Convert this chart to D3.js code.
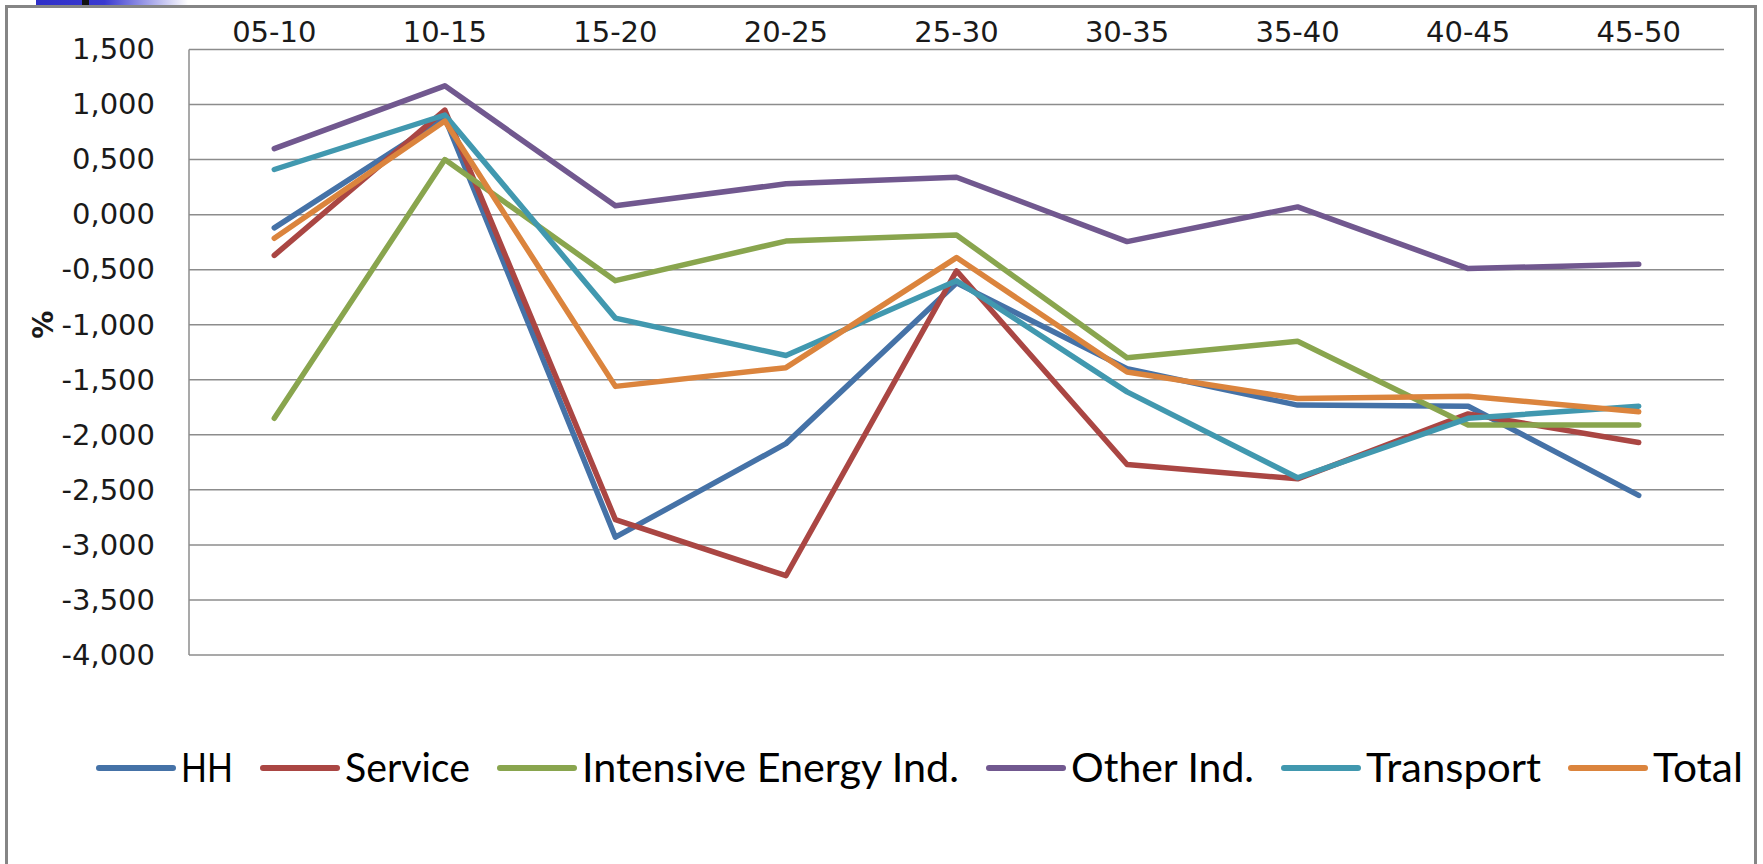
<!DOCTYPE html>
<html>
<head>
<meta charset="utf-8">
<script src="https://cdnjs.cloudflare.com/ajax/libs/d3/7.8.5/d3.min.js"></script>
<style>
  html, body { margin: 0; padding: 0; background: #fff; }
  svg { display: block; }
</style>
</head>
<body>
<svg id="chart" width="1763" height="864"></svg>
<script>
// ---- data ----
const categories = ["05-10","10-15","15-20","20-25","25-30","30-35","35-40","40-45","45-50"];
const seriesNames = ["HH","Service","Intensive Energy Ind.","Other Ind.","Transport","Total"];
const hh        = [-0.12, 0.88, -2.93, -2.08, -0.62, -1.40, -1.73, -1.74, -2.55];
const service   = [-0.37, 0.95, -2.77, -3.28, -0.51, -2.27, -2.40, -1.81, -2.07];
const intensive = [-1.85, 0.50, -0.60, -0.24, -0.185, -1.30, -1.15, -1.91, -1.91];
const otherInd  = [0.60, 1.17, 0.08, 0.28, 0.34, -0.245, 0.07, -0.49, -0.45];
const transport = [0.41, 0.905, -0.94, -1.28, -0.60, -1.61, -2.39, -1.85, -1.74];
const total     = [-0.215, 0.85, -1.56, -1.39, -0.39, -1.43, -1.67, -1.65, -1.79];
const yTicks    = [1.5, 1.0, 0.5, 0.0, -0.5, -1.0, -1.5, -2.0, -2.5, -3.0, -3.5, -4.0];
const colors    = ["#4572A7","#AA4643","#89A54E","#71588F","#4198AF","#DB843D"];

// legend label widths (styling: emulates the narrow Calibri face)
const legendTextWidths = [52, 125, 377, 183, 175, 90];

const seriesValues = [hh, service, intensive, otherInd, transport, total];
const series = seriesNames.map((name, i) => ({ name, values: seriesValues[i], color: colors[i] }));

// ---- layout ----
const svg = d3.select("#chart");
const plot = { left: 189, right: 1724, top: 49.5, bottom: 655 };

// decoration at top-left
const defs = svg.append("defs");
const grad = defs.append("linearGradient").attr("id", "topbar").attr("x1", "0").attr("x2", "1");
grad.append("stop").attr("offset", "0").attr("stop-color", "#2f2fc8");
grad.append("stop").attr("offset", "0.45").attr("stop-color", "#3a3ad0");
grad.append("stop").attr("offset", "1").attr("stop-color", "#ffffff");
svg.append("rect").attr("x", 36).attr("y", 0).attr("width", 152).attr("height", 5).attr("fill", "url(#topbar)");
svg.append("rect").attr("x", 82).attr("y", 0).attr("width", 7).attr("height", 6).attr("fill", "#111");

// chart frame
svg.append("path")
  .attr("d", "M6.5,880 L6.5,6.5 L1755.5,6.5 L1755.5,880")
  .attr("fill", "none").attr("stroke", "#858585").attr("stroke-width", 3);

const x = d3.scaleBand().domain(categories).range([plot.left, plot.right]);
const y = d3.scaleLinear().domain([-4, 1.5]).range([plot.bottom, plot.top]);

const fmt = v => d3.format(".3f")(v).replace(".", ",").replace("\u2212", "-");

// gridlines
svg.append("g").selectAll("line").data(yTicks).join("line")
  .attr("x1", plot.left).attr("x2", plot.right)
  .attr("y1", d => y(d)).attr("y2", d => y(d))
  .attr("stroke", "#8c8c8c").attr("stroke-width", 1.5);

// y axis line
svg.append("line")
  .attr("x1", plot.left).attr("x2", plot.left)
  .attr("y1", plot.top).attr("y2", plot.bottom)
  .attr("stroke", "#8c8c8c").attr("stroke-width", 1.5);

// y tick labels
const yAxis = d3.axisLeft(y).tickValues(yTicks).tickFormat(fmt).tickSize(0).tickPadding(34);
const yg = svg.append("g").attr("transform", `translate(${plot.left},0)`).call(yAxis);
yg.select(".domain").remove();
yg.selectAll("text")
  .attr("font-family", "DejaVu Sans, Verdana, sans-serif")
  .attr("font-size", 29).attr("fill", "#1a1a1a");

// x category labels on top
const xAxis = d3.axisTop(x).tickSize(0).tickPadding(8);
const xg = svg.append("g").attr("transform", `translate(0,${plot.top})`).call(xAxis);
xg.select(".domain").remove();
xg.selectAll("text")
  .attr("font-family", "DejaVu Sans, Verdana, sans-serif")
  .attr("font-size", 29).attr("fill", "#1a1a1a");

// y axis title
svg.append("text")
  .attr("transform", `translate(43,${y(-1.0)}) rotate(-90)`)
  .attr("text-anchor", "middle").attr("dy", "0.36em")
  .attr("font-family", "DejaVu Sans, Verdana, sans-serif")
  .attr("font-size", 28).attr("font-weight", "bold").attr("fill", "#1a1a1a")
  .text("%");

// lines
const line = d3.line()
  .x((d, i) => x(categories[i]) + x.bandwidth() / 2)
  .y(d => y(d));

svg.append("g").selectAll("path").data(series).join("path")
  .attr("d", d => line(d.values))
  .attr("fill", "none")
  .attr("stroke", d => d.color)
  .attr("stroke-width", 5.5)
  .attr("stroke-linejoin", "round")
  .attr("stroke-linecap", "round");

// legend
const legendY = 768;
const lg = svg.append("g");
let cx = 97;
series.forEach((s, i) => {
  lg.append("line")
    .attr("x1", cx + 2).attr("x2", cx + 76)
    .attr("y1", legendY).attr("y2", legendY)
    .attr("stroke", s.color).attr("stroke-width", 6).attr("stroke-linecap", "round");
  const w = legendTextWidths[i];
  lg.append("text")
    .attr("x", cx + 84).attr("y", legendY).attr("dy", "0.36em")
    .attr("font-family", "Lato, 'Open Sans', sans-serif")
    .attr("font-size", 40).attr("fill", "#000")
    .attr("textLength", w).attr("lengthAdjust", "spacingAndGlyphs")
    .text(s.name);
  cx = cx + 84 + w + 28;
});
</script>
</body>
</html>
